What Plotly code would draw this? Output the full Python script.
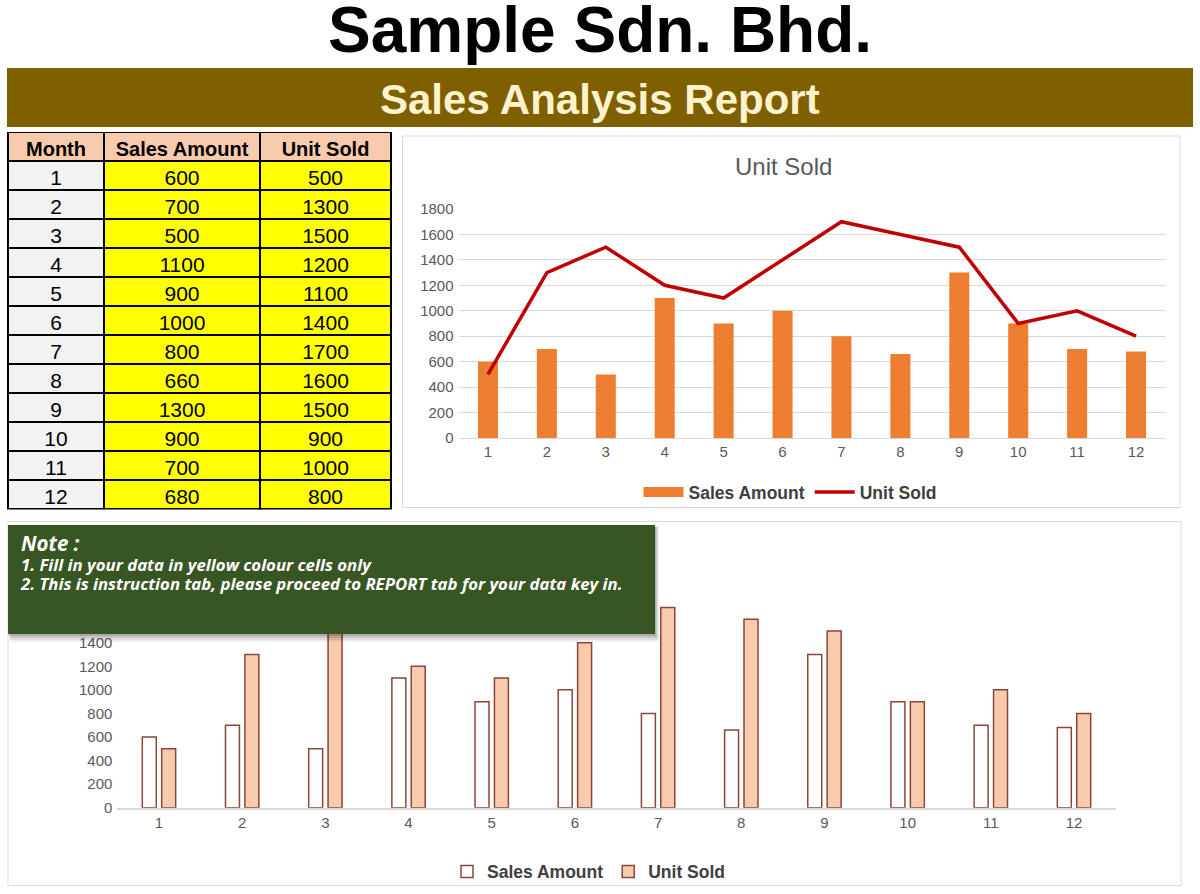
import plotly.graph_objects as go

W, H = 1200, 894

# ---------------- data ----------------
months = [1, 2, 3, 4, 5, 6, 7, 8, 9, 10, 11, 12]
sales_amount = [600, 700, 500, 1100, 900, 1000, 800, 660, 1300, 900, 700, 680]
unit_sold = [500, 1300, 1500, 1200, 1100, 1400, 1700, 1600, 1500, 900, 1000, 800]
table_header = ["Month", "Sales Amount", "Unit Sold"]
top_y_ticks = [0, 200, 400, 600, 800, 1000, 1200, 1400, 1600, 1800]
bottom_y_ticks = [0, 200, 400, 600, 800, 1000, 1200, 1400]
company = "Sample Sdn. Bhd."
report_title = "Sales Analysis Report"
top_chart_title = "Unit Sold"
note_lines = [
    "Note :",
    "1. Fill in your data in yellow colour cells only",
    "2. This is instruction tab, please proceed to REPORT tab for your data key in.",
]

FONT = "Liberation Sans, Arial, sans-serif"
NOTE_FONT = "Open Sans, sans-serif"
ORANGE = "#ED7D31"
DARKRED = "#C00000"
PEACH = "#F8CBAD"
BROWN = "#8A4636"
GRID = "#D9D9D9"
TICK = "#595959"


def px(x):
    return x / W


def py(y):
    return 1 - y / H


fig = go.Figure()

# ---------------- table ----------------
fig.add_trace(go.Table(
    domain=dict(x=[px(8), px(391)], y=[py(510), py(132.5)]),
    columnwidth=[96, 156, 131],
    header=dict(
        values=table_header,
        fill_color=PEACH,
        line=dict(color="black", width=1.5),
        font=dict(family=FONT, size=20, color="black", weight="bold"),
        align="center",
        height=28.5,
    ),
    cells=dict(
        values=[months, sales_amount, unit_sold],
        fill_color=[["#F2F2F2"] * len(months), ["#FFFF00"] * len(months), ["#FFFF00"] * len(months)],
        line=dict(color="black", width=1.5),
        font=dict(family=FONT, size=21, color="black"),
        align="center",
        height=29,
    ),
))

# ---------------- top chart ----------------
fig.add_trace(go.Bar(
    x=months, y=sales_amount, name="Sales Amount",
    marker=dict(color=ORANGE, line=dict(width=0)),
    width=0.34, offset=-0.17,
    xaxis="x", yaxis="y", showlegend=False, legend="legend",
))
fig.add_trace(go.Scatter(
    x=[None], y=[None], mode="lines", name="Sales Amount",
    line=dict(color=ORANGE, width=10),
    xaxis="x", yaxis="y", legend="legend",
))
fig.add_trace(go.Scatter(
    x=months, y=unit_sold, mode="lines", name="Unit Sold",
    line=dict(color=DARKRED, width=3.5),
    xaxis="x", yaxis="y", legend="legend",
))

# ---------------- bottom chart ----------------
fig.add_trace(go.Bar(
    x=months, y=sales_amount, name="Sales Amount",
    marker=dict(color="white", line=dict(color=BROWN, width=1.5)),
    width=0.168, offset=-0.2006,
    xaxis="x2", yaxis="y2", legend="legend2",
))
fig.add_trace(go.Bar(
    x=months, y=unit_sold, name="Unit Sold",
    marker=dict(color=PEACH, line=dict(color=BROWN, width=1.5)),
    width=0.168, offset=0.0326,
    xaxis="x2", yaxis="y2", legend="legend2",
))

tickfont = dict(family=FONT, size=15, color=TICK)

fig.update_layout(
    width=W, height=H,
    margin=dict(l=0, r=0, t=0, b=0, pad=0, autoexpand=False),
    paper_bgcolor="white",
    plot_bgcolor="rgba(0,0,0,0)",
    barmode="overlay",
    xaxis=dict(
        domain=[px(458.5), px(1165.5)], range=[0.5, 12.5],
        tickmode="array", tickvals=months, ticktext=[str(m) for m in months],
        showgrid=False, zeroline=False, showline=True, linecolor=GRID, linewidth=1,
        tickfont=tickfont, ticks="", ticklabelstandoff=0, anchor="y", fixedrange=True,
        automargin=False,
    ),
    yaxis=dict(
        domain=[py(438), py(209)], range=[0, 1800],
        tickmode="array", tickvals=top_y_ticks,
        showgrid=True, gridcolor=GRID, gridwidth=1, zeroline=False, showline=False,
        tickfont=tickfont, ticks="", ticklabelstandoff=4, anchor="x", fixedrange=True,
        automargin=False,
    ),
    xaxis2=dict(
        domain=[px(117.4), px(1115.6)], range=[0.5, 12.5],
        tickmode="array", tickvals=months, ticktext=[str(m) for m in months],
        showgrid=False, zeroline=False, showline=True, linecolor=GRID, linewidth=1.5,
        tickfont=tickfont, ticks="", ticklabelstandoff=1, anchor="y2", fixedrange=True,
        automargin=False,
    ),
    yaxis2=dict(
        domain=[py(807.7), py(595.6)], range=[0, 1800],
        tickmode="array", tickvals=bottom_y_ticks,
        showgrid=False, zeroline=False, showline=False,
        tickfont=tickfont, ticks="", ticklabelstandoff=4, anchor="x2", fixedrange=True,
        automargin=False,
    ),
    legend=dict(
        orientation="h", x=px(790.5), xanchor="center", y=py(492), yanchor="middle",
        font=dict(family=FONT, size=17.5, color="#404040", weight="bold"),
        bgcolor="rgba(0,0,0,0)", itemclick=False, itemdoubleclick=False, itemwidth=40,
    ),
    legend2=dict(
        orientation="h", x=px(589), xanchor="center", y=py(871.5), yanchor="middle",
        font=dict(family=FONT, size=17.5, color="#404040", weight="bold"),
        bgcolor="rgba(0,0,0,0)", itemclick=False, itemdoubleclick=False,
    ),
)

shapes = [
    # banner
    dict(type="rect", xref="paper", yref="paper", x0=px(7), x1=px(1193), y0=py(127), y1=py(68),
         fillcolor="#7F6000", line=dict(width=0), layer="below"),
    # top chart frame
    dict(type="rect", xref="paper", yref="paper", x0=px(402.5), x1=px(1180), y0=py(507.5), y1=py(136),
         fillcolor="white", line=dict(color=GRID, width=1), layer="below"),
    # bottom chart frame
    dict(type="rect", xref="paper", yref="paper", x0=px(8), x1=px(1181), y0=py(885.5), y1=py(521.5),
         fillcolor="white", line=dict(color=GRID, width=1), layer="below"),
]
# shadow of note box
for i, a in enumerate([0.06, 0.08, 0.10, 0.14]):
    off = 8 - 2 * i
    shapes.append(dict(type="rect", xref="paper", yref="paper",
                       x0=px(8 + off * 0.3), x1=px(655 + off * 0.5), y0=py(634 + off), y1=py(527),
                       fillcolor=f"rgba(0,0,0,{a})", line=dict(width=0), layer="above"))
shapes.append(dict(type="rect", xref="paper", yref="paper", x0=px(8), x1=px(655), y0=py(634), y1=py(525),
                   fillcolor="#375623", line=dict(width=0), layer="above"))

note_text = (
    f'<span style="font-size:20.5px"><b><i>{note_lines[0]}</i></b></span><br>'
    f'<span style="font-size:16.8px"><b><i>{note_lines[1]}</i></b></span><br>'
    f'<span style="font-size:16.8px"><b><i>{note_lines[2]}</i></b></span>'
)

annotations = [
    dict(text=f"<b>{company}</b>", x=0.5, y=py(30), xref="paper", yref="paper",
         xanchor="center", yanchor="middle", showarrow=False,
         font=dict(family=FONT, size=64, color="black")),
    dict(text=f"<b>{report_title}</b>", x=0.5, y=py(99), xref="paper", yref="paper",
         xanchor="center", yanchor="middle", showarrow=False,
         font=dict(family=FONT, size=42, color="#FFF2CC")),
    dict(text=top_chart_title, x=px(783), y=py(166), xref="paper", yref="paper",
         xanchor="center", yanchor="middle", showarrow=False,
         font=dict(family=FONT, size=24, color=TICK)),
    dict(text=note_text, x=px(18), y=py(562), xref="paper", yref="paper",
         xanchor="left", yanchor="middle", align="left", showarrow=False,
         font=dict(family=NOTE_FONT, size=15, color="white")),
]

fig.update_layout(shapes=shapes, annotations=annotations)

fig.write_html("out.html", config={"displayModeBar": False})
